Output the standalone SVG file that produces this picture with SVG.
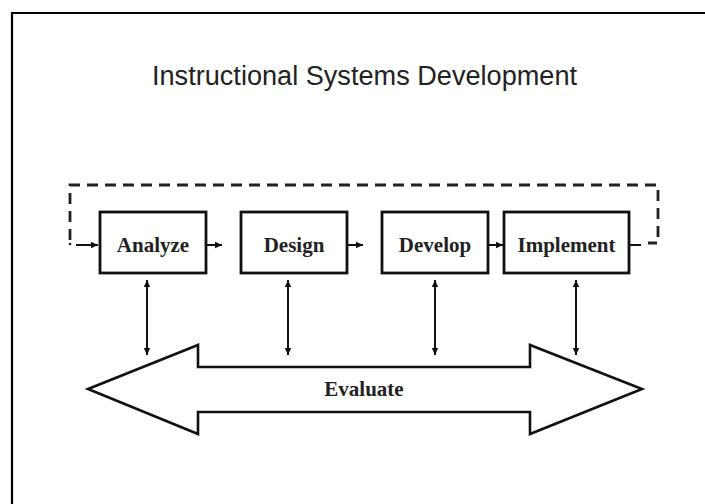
<svg xmlns="http://www.w3.org/2000/svg" width="705" height="504" viewBox="0 0 705 504">
<defs>
<marker id="ah" markerWidth="8" markerHeight="8" refX="7" refY="4" orient="auto-start-reverse" markerUnits="userSpaceOnUse">
<path d="M0,0.8 L7,4 L0,7.2 Z" fill="#111"/>
</marker>
<style>
.box{fill:#fff;stroke:#111;stroke-width:2.8}
.lbl{font-family:"Liberation Serif","Times New Roman",serif;font-weight:bold;font-size:21px;fill:#222;text-anchor:middle}
.con{stroke:#111;stroke-width:2;fill:none}
.dash{stroke:#222;stroke-width:2.8;fill:none;stroke-dasharray:11,7}
</style>
</defs>
<rect width="705" height="504" fill="#fff"/>
<path d="M12,504 V13 H705" fill="none" stroke="#000" stroke-width="2.2"/>
<text x="364.5" y="85" font-family="Liberation Sans,Arial,sans-serif" font-size="27" fill="#222" text-anchor="middle" textLength="425" lengthAdjust="spacingAndGlyphs">Instructional Systems Development</text>
<g id="connectors">
<path class="dash" d="M70,240 V185 H658 V243 H648"/>
<path class="con" d="M641,245 H630"/>
<circle cx="70" cy="244" r="1.3" fill="#222"/>
<line class="con" x1="76" y1="245" x2="98" y2="245" marker-end="url(#ah)"/>
<line class="con" x1="207" y1="245" x2="222" y2="245" marker-end="url(#ah)"/>
<line class="con" x1="348" y1="245" x2="363" y2="245" marker-end="url(#ah)"/>
<line class="con" x1="489" y1="245" x2="503" y2="245" marker-end="url(#ah)"/>
<line class="con" x1="147" y1="280" x2="147" y2="355" marker-start="url(#ah)" marker-end="url(#ah)"/>
<line class="con" x1="288" y1="280" x2="288" y2="355" marker-start="url(#ah)" marker-end="url(#ah)"/>
<line class="con" x1="435" y1="280" x2="435" y2="355" marker-start="url(#ah)" marker-end="url(#ah)"/>
<line class="con" x1="576" y1="280" x2="576" y2="355" marker-start="url(#ah)" marker-end="url(#ah)"/>
</g>
<g id="analyze"><rect class="box" x="100" y="212" width="106" height="61"/><text class="lbl" x="153" y="252">Analyze</text></g>
<g id="design"><rect class="box" x="241" y="212" width="106" height="61"/><text class="lbl" x="294" y="252">Design</text></g>
<g id="develop"><rect class="box" x="382" y="212" width="106" height="61"/><text class="lbl" x="435" y="252">Develop</text></g>
<g id="implement"><rect class="box" x="504" y="212" width="125" height="61"/><text class="lbl" x="566.5" y="252">Implement</text></g>
<g id="evaluate">
<polygon points="88,389 198,345 198,367 530,367 530,345 642,389 530,434 530,412 198,412 198,434" fill="#fff" stroke="#111" stroke-width="2.6" stroke-linejoin="miter"/>
<text class="lbl" x="364" y="396">Evaluate</text>
</g>
</svg>
